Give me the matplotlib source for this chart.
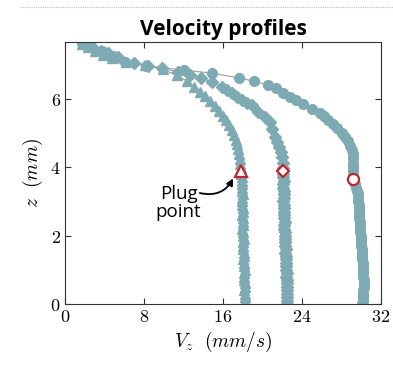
import matplotlib
matplotlib.use("Agg")
import matplotlib.pyplot as plt
from matplotlib.lines import Line2D

plt.rcParams['mathtext.fontset'] = 'cm'

# ---- data ----
tri_x = [1.7, 2.3, 3.0, 3.8, 4.8, 6.2, 8.1, 9.9, 11.3, 12.4, 13.1, 13.7, 14.2, 14.7,
         15.2, 15.6, 16.0, 16.3, 16.6, 16.9, 17.1, 17.3, 17.4, 17.5, 17.6, 17.7, 17.75,
         17.8, 17.85, 17.9, 17.9, 17.95, 17.9, 17.95, 18.0, 17.95, 17.9, 17.95, 18.0,
         18.0, 17.95, 18.0, 18.05, 18.0, 17.95, 18.0, 18.05, 18.1, 18.05, 18.0, 18.05,
         18.1, 18.1, 18.05, 18.1, 18.15, 18.2, 18.15, 18.1, 18.15, 18.2, 18.2, 18.15,
         18.2, 18.25, 18.2, 18.2]
tri_z = [7.6, 7.5, 7.38, 7.27, 7.17, 7.08, 6.98, 6.85, 6.68, 6.5, 6.35, 6.2, 6.06, 5.92,
         5.78, 5.64, 5.5, 5.36, 5.22, 5.08, 4.94, 4.8, 4.66, 4.52, 4.38, 4.24, 4.1,
         3.96, 3.8, 3.7, 3.6, 3.5, 3.4, 3.3, 3.2, 3.1, 3.0, 2.9, 2.8,
         2.7, 2.6, 2.5, 2.4, 2.3, 2.2, 2.1, 2.0, 1.9, 1.8, 1.7, 1.6,
         1.5, 1.4, 1.3, 1.2, 1.1, 1.0, 0.9, 0.8, 0.7, 0.6, 0.5, 0.4,
         0.3, 0.2, 0.1, 0.0]

dia_x = [1.9, 2.8, 3.6, 4.4, 5.4, 7.0, 8.4, 9.8, 11.4, 12.7, 13.77, 14.89, 15.9, 16.4,
         16.9, 17.4, 17.9, 18.4, 18.9, 19.5, 20.25, 20.76, 21.0, 21.27, 21.5, 21.67,
         21.85, 21.97, 22.08, 22.1, 22.1, 22.1, 22.15, 22.1, 22.1, 22.15, 22.2, 22.15,
         22.1, 22.15, 22.2, 22.2, 22.15, 22.2, 22.25, 22.2, 22.2, 22.25, 22.3, 22.3,
         22.25, 22.3, 22.35, 22.3, 22.35, 22.4, 22.4, 22.35, 22.4, 22.45, 22.4, 22.45,
         22.5, 22.45, 22.5, 22.5, 22.45, 22.5, 22.45]
dia_z = [7.58, 7.48, 7.4, 7.32, 7.2, 7.05, 6.95, 6.88, 6.78, 6.68, 6.6, 6.48, 6.34, 6.25,
         6.15, 6.04, 5.96, 5.88, 5.81, 5.61, 5.46, 5.31, 5.1, 4.88, 4.73, 4.58,
         4.43, 4.29, 4.12, 3.98, 3.8, 3.7, 3.6, 3.5, 3.4, 3.3, 3.2, 3.1,
         3.0, 2.9, 2.8, 2.7, 2.6, 2.5, 2.4, 2.3, 2.2, 2.1, 2.0, 1.9,
         1.8, 1.7, 1.6, 1.5, 1.4, 1.3, 1.2, 1.1, 1.0, 0.9, 0.8, 0.7,
         0.6, 0.5, 0.4, 0.3, 0.2, 0.1, 0.0]

cir_x = [1.7, 2.6, 3.7, 4.9, 6.1, 8.2, 12.05, 14.9, 17.6, 19.1, 20.6, 21.4, 22.1, 22.8,
         23.4, 24.1, 25.0, 25.8, 26.2, 26.6, 27.1, 27.5, 28.0, 28.4, 28.7, 28.9, 29.1,
         29.15, 29.2, 29.2, 29.2, 29.2, 29.2, 29.3, 29.4, 29.5, 29.6, 29.65, 29.7, 29.7,
         29.75, 29.75, 29.8, 29.8, 29.8, 29.85, 29.85, 29.9, 29.9, 29.95, 30.0, 30.0,
         30.0, 30.05, 30.05, 30.1, 30.1, 30.15, 30.15, 30.2, 30.2, 30.2, 30.25, 30.25,
         30.25, 30.2, 30.2, 30.15, 30.15, 30.1]
cir_z = [7.62, 7.52, 7.4, 7.25, 7.07, 6.95, 6.83, 6.74, 6.6, 6.51, 6.39, 6.3, 6.17, 6.04,
         5.95, 5.84, 5.69, 5.58, 5.48, 5.37, 5.25, 5.14, 5.0, 4.88, 4.75, 4.62, 4.5,
         4.37, 4.25, 4.12, 4.0, 3.88, 3.75, 3.6, 3.5, 3.4, 3.3, 3.2, 3.1, 3.0,
         2.9, 2.8, 2.7, 2.6, 2.5, 2.4, 2.3, 2.2, 2.1, 2.0, 1.9, 1.8,
         1.7, 1.6, 1.5, 1.4, 1.3, 1.2, 1.1, 1.0, 0.9, 0.8, 0.7, 0.6,
         0.5, 0.4, 0.3, 0.2, 0.1, 0.0]

plug_x = [17.8, 22.1, 29.2]
plug_z = [3.88, 3.88, 3.65]
plug_markers = ['^', 'D', 'o']

xticks = [0, 8, 16, 24, 32]
yticks = [0, 2, 4, 6]

teal = '#7eaab3'
red = '#c0272d'

fig = plt.figure(figsize=(3.93, 3.65), dpi=100)
ax = fig.add_axes([0.1654, 0.1671, 0.8041, 0.7178])

for xs, zs, m, ms in [(tri_x, tri_z, '^', 7.2), (dia_x, dia_z, 'D', 5.7), (cir_x, cir_z, 'o', 7.0)]:
    ax.plot(xs, zs, '-', color='#9a9a9a', lw=0.8, zorder=1)
    ax.plot(xs, zs, linestyle='none', marker=m, ms=ms, color=teal, mec=teal, zorder=2)

for px, pz, m in zip(plug_x, plug_z, plug_markers):
    ax.plot([px], [pz], linestyle='none', marker=m, ms=8 if m != 'D' else 6.5,
            mfc='white', mec=red, mew=1.6, zorder=4)

ax.text(11.5, 2.95, 'Plug\npoint', ha='center', va='center', fontsize=13.5,
        family='Open Sans', linespacing=0.95)
ax.annotate('', xy=(17.15, 3.74), xytext=(13.65, 3.24),
            arrowprops=dict(arrowstyle='-|>', connectionstyle='arc3,rad=0.4',
                            color='black', lw=1.3, shrinkA=0, shrinkB=2,
                            mutation_scale=10))

ax.set_xlim(0, 32)
ax.set_ylim(0, 7.65)
ax.set_xticks(xticks)
ax.set_yticks(yticks)
ax.set_xticklabels([f'${t}$' for t in xticks])
ax.set_yticklabels([f'${t}$' for t in yticks])
ax.tick_params(direction='in', top=True, right=True, length=4, width=0.8,
               labelsize=13, color='#333333', pad=3)
for s in ax.spines.values():
    s.set_linewidth(0.8)
    s.set_color('#333333')

ax.set_xlabel(r'$V_z\ \ (mm/s)$', fontsize=14, labelpad=3)
ax.set_ylabel(r'$z\ \ (mm)$', fontsize=14, labelpad=4)
ax.set_title('Velocity profiles', fontsize=15, fontweight='bold', family='Open Sans', pad=5)

fig.add_artist(Line2D([0.05, 1.0], [1 - 7 / 365, 1 - 7 / 365], color='#bbbbbb',
                      lw=0.8, ls=(0, (1, 1)), transform=fig.transFigure))

fig.savefig('out.png', dpi=100)
